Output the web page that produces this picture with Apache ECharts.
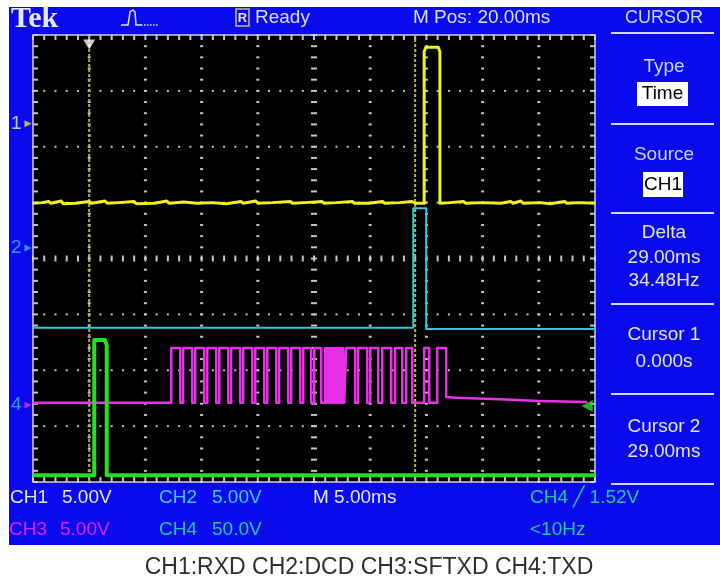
<!DOCTYPE html>
<html>
<head>
<meta charset="utf-8">
<script src="https://cdn.jsdelivr.net/npm/echarts@6/dist/echarts.min.js"></script>
<style>
html,body{margin:0;padding:0;background:#fff;}
#c{width:720px;height:580px;}
</style>
</head>
<body>
<div id="c"></div>
<script>
// ---- axis ranges (time in ms, relative to cursor 1; vertical in divisions) ----
const timeRange = [-5, 45];
const divRange = [-4, 4];
const timeMajor = 5;   // 5.00 ms/div
const divMajor = 1;

// ---- cursors & markers ----
const cursorTimes = [0, 29];
const triggerPos = [[0, 3.83]];
const triggerLevel = [[44.3, -2.64]];
const groundLabels = ['1', '2', '4'];
const groundLevels = [2.41, 0.19, -2.62];
const groundColors = ['#f0f0b0', '#40b8ff', '#30c8b0'];
const groundArrowColors = ['#e8e840', '#40b8ff', '#e030e0'];

// ---- CH1 RXD (yellow) ----
const ch1Points = [[-5,0.99],[-4.2,1.00],[-3.6,1.02],[-3.4,0.99],[-2.5,1.03],[-2.3,0.98],[-1.2,0.99],[0,1.02],[0.2,0.99],[1.4,1.03],[1.6,0.99],[2.6,1.00],[4.0,1.02],[4.2,0.98],[5.8,0.99],[6.9,1.03],[7.1,0.99],[8.4,1.01],[9.6,0.99],[10.9,1.00],[12.2,0.98],[13.5,1.02],[13.7,0.99],[14.8,1.03],[15.0,0.99],[16.3,1.00],[17.9,1.02],[18.1,0.99],[19.2,1.00],[20.7,1.02],[20.9,0.99],[22.0,1.00],[23.4,1.02],[23.6,0.99],[24.9,0.99],[26.1,1.02],[26.3,0.99],[27.6,1.00],[28.7,1.02],[29.0,0.99],[29.8,0.99],[29.8,3.70],[29.95,3.78],[31.05,3.78],[31.2,3.70],[31.2,0.99],[32.1,1.00],[33.3,1.02],[33.5,0.99],[35.0,1.00],[36.6,0.99],[37.5,1.02],[37.7,0.99],[38.4,1.03],[38.6,0.99],[40.1,1.00],[41.0,0.98],[42.3,1.02],[42.5,0.99],[43.6,1.00],[45,0.99]];

// ---- CH2 DCD (cyan) ----
const ch2Points = [[-5,-1.24],[28.83,-1.24],[28.83,0.90],[29.98,0.90],[29.98,-1.26],[45,-1.26]];

// ---- CH3 SFTXD (magenta) ----
const ch3Low = -2.58;
const ch3High = -1.60;
const ch3HighSpans = [[7.30,8.10],[8.36,9.16],[9.43,10.23],[10.50,11.30],[11.57,12.37],[12.63,13.43],[13.70,14.50],[14.77,15.57],[15.84,16.64],[16.90,17.70],[17.97,18.77],[19.04,19.75],[20.02,20.64],
  [21.00,21.10],[21.20,21.30],[21.40,21.50],[21.60,21.70],[21.80,21.90],[22.00,22.10],[22.20,22.30],[22.40,22.50],[22.60,22.69],
  [22.86,23.67],[23.93,24.73],[25.00,25.71],[26.07,26.87],[27.22,27.85],[28.20,28.74],[29.80,30.25],[30.96,31.76]];
const ch3Tail = [[31.76,-2.48],[32.6,-2.49],[36.5,-2.52],[40.0,-2.55],[44.3,-2.57]];

// ---- CH4 TXD (green) ----
const ch4Points = [[-5,-3.88],[0.45,-3.88],[0.45,-1.46],[1.40,-1.46],[1.56,-1.55],[1.56,-3.88],[45,-3.88]];

// ---- build CH3 step data from the spans ----
const ch3Points = [[timeRange[0], ch3Low]];
ch3HighSpans.forEach(function (s, i) {
  ch3Points.push([s[0], ch3Low], [s[0], ch3High], [s[1], ch3High]);
  if (i < ch3HighSpans.length - 1) ch3Points.push([s[1], ch3Low]);
});
ch3Tail.forEach(function (p) { ch3Points.push(p); });

const F = '"Liberation Sans", Arial, sans-serif';

function renderGraticule(params, api) {
  const ch = [];
  const pMin = api.coord([timeRange[0], divRange[0]]);
  const pMax = api.coord([timeRange[1], divRange[1]]);
  const L = pMin[0], R = pMax[0], B = pMin[1], T = pMax[1];
  ch.push({type: 'rect', shape: {x: L, y: T, width: R - L, height: B - T}, style: {fill: '#000'}});
  const col = '#c4c4c4';
  const nx = (timeRange[1] - timeRange[0]) / timeMajor * 5;
  const ny = (divRange[1] - divRange[0]) / divMajor * 5;
  const nxMaj = (timeRange[1] - timeRange[0]) / timeMajor;
  const nyMaj = (divRange[1] - divRange[0]) / divMajor;
  for (let j = 0; j <= nyMaj; j++) {
    const v = divRange[0] + j * divMajor;
    for (let i = 0; i <= nx; i++) {
      const t = timeRange[0] + i * timeMajor / 5;
      const p = api.coord([t, v]);
      let r;
      if (j === 0) r = {x: p[0] - 1, y: B - 5, width: 2, height: 5};
      else if (j === nyMaj) r = {x: p[0] - 1, y: T, width: 2, height: 5};
      else if (v === 0) r = {x: p[0] - 1, y: p[1] - 3, width: 2, height: 6};
      else r = {x: p[0] - 1, y: p[1] - 1, width: 2, height: 2};
      ch.push({type: 'rect', shape: r, style: {fill: col}});
    }
  }
  const tCenter = (timeRange[0] + timeRange[1]) / 2;
  for (let i = 0; i <= nxMaj; i++) {
    const t = timeRange[0] + i * timeMajor;
    for (let j = 0; j <= ny; j++) {
      const v = divRange[0] + j * divMajor / 5;
      const p = api.coord([t, v]);
      let r;
      if (i === 0) r = {x: L, y: p[1] - 1, width: 5, height: 2};
      else if (i === nxMaj) r = {x: R - 5, y: p[1] - 1, width: 5, height: 2};
      else if (t === tCenter) r = {x: p[0] - 3, y: p[1] - 1, width: 6, height: 2};
      else r = {x: p[0] - 1.5, y: p[1] - 1, width: 3, height: 2};
      ch.push({type: 'rect', shape: r, style: {fill: col}});
    }
  }
  ch.push({type: 'rect', shape: {x: L, y: T, width: R - L, height: B - T}, style: {fill: 'none', stroke: '#d0d0e0', lineWidth: 1.5}});
  return {type: 'group', children: ch};
}

function txt(x, y, s, color, size, align, extra) {
  return {type: 'text', z: 20, style: {x: x, y: y, text: s, fill: color,
    font: (extra || '') + ' ' + size + 'px ' + F,
    textAlign: align || 'left', textVerticalAlign: 'middle', align: align || 'left', verticalAlign: 'middle'}};
}

const panelText = '#c8d4ff';
const panelVal = '#e4e2c0';
const sepY = [33, 124, 213, 304, 394, 484];

const graphics = [
  {type: 'rect', z: -10, shape: {x: 9, y: 7, width: 711, height: 538}, style: {fill: '#0a0aee'}},
  {type: 'text', z: 20, style: {x: 11, y: 19, text: 'Tek', fill: '#e8e8f8', font: 'bold 30px "Liberation Serif", serif', textVerticalAlign: 'middle', verticalAlign: 'middle'}},
  {type: 'polyline', z: 20, shape: {points: [[121,25],[128,25],[129,19],[130,12],[133,10],[135,12],[136,25],[141,25]]}, style: {stroke: '#e0e0ff', lineWidth: 1.5, fill: 'none'}},
  {type: 'polyline', z: 20, shape: {points: [[141,25],[158,25]]}, style: {stroke: '#e0e0ff', lineWidth: 1.5, fill: 'none', lineDash: [1.5, 1.5]}},
  {type: 'rect', z: 20, shape: {x: 236, y: 9, width: 13, height: 17}, style: {fill: 'none', stroke: '#d8b860', lineWidth: 1.5}},
  txt(242.5, 18, 'R', '#e0e0e0', 13, 'center', 'bold'),
  txt(255, 18, 'Ready', '#dcdcff', 19),
  txt(413, 18, 'M Pos: 20.00ms', '#dcdcff', 19),
  txt(664, 18, 'CURSOR', panelText, 18, 'center'),
  txt(664, 67, 'Type', panelText, 19, 'center'),
  {type: 'rect', z: 19, shape: {x: 637, y: 82, width: 51, height: 24}, style: {fill: '#ffffff'}},
  txt(662.5, 94, 'Time', '#000000', 19, 'center'),
  txt(664, 155, 'Source', panelText, 19, 'center'),
  {type: 'rect', z: 19, shape: {x: 643, y: 172, width: 40, height: 25}, style: {fill: '#ffffff'}},
  txt(663, 185, 'CH1', '#000000', 19, 'center'),
  txt(664, 233, 'Delta', panelVal, 19, 'center'),
  txt(664, 258, '29.00ms', panelVal, 19, 'center'),
  txt(664, 281, '34.48Hz', panelVal, 19, 'center'),
  txt(664, 335, 'Cursor 1', panelVal, 19, 'center'),
  txt(664, 362, '0.000s', panelVal, 19, 'center'),
  txt(664, 427, 'Cursor 2', panelVal, 19, 'center'),
  txt(664, 452, '29.00ms', panelVal, 19, 'center'),
  txt(10, 498, 'CH1', '#e4e4e4', 19),
  txt(62, 498, '5.00V', '#e4e4e4', 19),
  txt(159, 498, 'CH2', '#40c8ff', 19),
  txt(212, 498, '5.00V', '#40c8ff', 19),
  txt(313, 498, 'M 5.00ms', '#e4e4f4', 19),
  txt(530, 498, 'CH4 ╱ 1.52V', '#20c8a0', 19),
  txt(9, 530, 'CH3', '#e020f0', 19),
  txt(60, 530, '5.00V', '#e020f0', 19),
  txt(159, 530, 'CH4', '#20c8a0', 19),
  txt(212, 530, '50.0V', '#20c8a0', 19),
  txt(530, 530, '<10Hz', '#20c8a0', 19),
  txt(369, 568, 'CH1:RXD CH2:DCD CH3:SFTXD CH4:TXD', '#303030', 23, 'center')
];
sepY.forEach(function (y) {
  graphics.push({type: 'line', z: 20, shape: {x1: 611, y1: y, x2: 714, y2: y}, style: {stroke: '#d0d8ff', lineWidth: 2}});
});

function lineSeries(name, data, color, width, z) {
  return {name: name, type: 'line', data: data, symbol: 'none', z: z,
    lineStyle: {color: color, width: width, join: 'round'}, silent: true, animation: false};
}

const groundData = groundLabels.map(function (l, i) {
  return {value: [timeRange[0], groundLevels[i]],
    itemStyle: {color: groundArrowColors[i]},
    label: {show: true, formatter: l, color: groundColors[i], position: 'left', distance: 3, fontSize: 19, fontFamily: 'Liberation Sans'}};
});

const cursorSeries = cursorTimes.map(function (t, i) {
  return {name: 'cursor' + (i + 1), type: 'line', symbol: 'none', z: 3, silent: true, animation: false,
    data: [[t, divRange[0]], [t, divRange[1]]],
    lineStyle: {color: '#b8ac48', width: 2, type: [3, 2]}};
});

const option = {
  animation: false,
  backgroundColor: '#ffffff',
  grid: {left: 33, top: 35, width: 562, height: 447, show: false},
  xAxis: {type: 'value', min: timeRange[0], max: timeRange[1], interval: timeMajor,
    axisLine: {show: false}, axisTick: {show: false}, axisLabel: {show: false}, splitLine: {show: false}},
  yAxis: {type: 'value', min: divRange[0], max: divRange[1], interval: divMajor,
    axisLine: {show: false}, axisTick: {show: false}, axisLabel: {show: false}, splitLine: {show: false}},
  graphic: graphics,
  series: [
    {name: 'graticule', type: 'custom', renderItem: renderGraticule, data: [[timeRange[0], divRange[0]]], z: 1, silent: true, clip: false}
  ].concat(cursorSeries).concat([
    lineSeries('CH2', ch2Points, '#30c8d8', 2, 5),
    lineSeries('CH3', ch3Points, '#e830e8', 2.5, 6),
    lineSeries('CH4', ch4Points, '#20e020', 4, 7),
    lineSeries('CH1', ch1Points, '#f0f020', 3, 8),
    {name: 'trigger', type: 'scatter', data: triggerPos, symbol: 'triangle', symbolRotate: 180, symbolSize: [12, 10], itemStyle: {color: '#ffffff'}, z: 9, silent: true, clip: false},
    {name: 'trigLevel', type: 'scatter', data: triggerLevel, symbol: 'triangle', symbolRotate: 90, symbolSize: [12, 11], itemStyle: {color: '#20e020'}, z: 9, silent: true, clip: false},
    {name: 'ground', type: 'scatter', data: groundData, symbol: 'triangle', symbolRotate: -90, symbolSize: [7, 7], symbolOffset: [-5, 0], z: 9, silent: true, clip: false}
  ])
};

const chart = echarts.init(document.getElementById('c'), null, {renderer: 'canvas'});
chart.setOption(option);
</script>
</body>
</html>
